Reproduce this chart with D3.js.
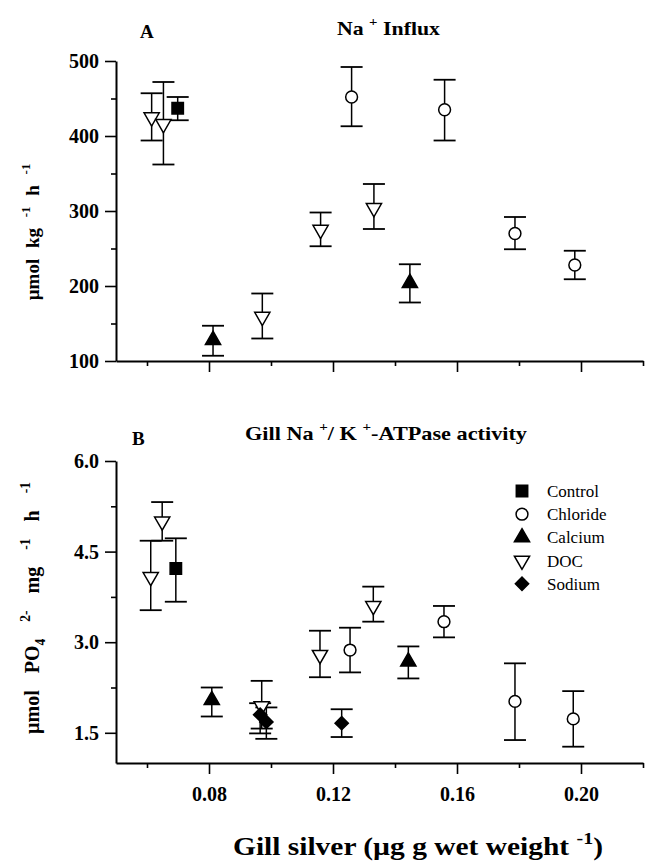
<!DOCTYPE html>
<meta charset="utf-8">
<head>
  <script src="https://d3js.org/d3.v7.min.js"></script>
  <style>
    body { margin: 0; background: #fff; }
    text { font-family: "Liberation Serif", "Times New Roman", serif; fill: #000; }
  </style>
</head>
<body>
<div id="chart"></div>
<script>
// ---- data: [gill silver, value, lower error, upper error] ----
var seriesNames = ["Control", "Chloride", "Calcium", "DOC", "Sodium"];

// panel A: Na+ influx (umol kg-1 h-1)
var influxControl = [[0.0699, 437, 421, 452]];
var influxChloride = [[0.1260, 452, 413, 492], [0.1560, 435, 394, 475], [0.1787, 270, 249, 292], [0.1980, 228, 209, 247]];
var influxCalcium = [[0.0813, 128, 107, 147], [0.1448, 204, 178, 229]];
var influxDOC = [[0.0615, 425, 394, 457], [0.0653, 416, 362, 472], [0.0972, 159, 130, 190], [0.1160, 275, 253, 298], [0.1332, 304, 276, 336]];
var influxSodium = [];

// panel B: gill Na+/K+-ATPase activity
var atpControl = [[0.0693, 4.22, 3.67, 4.72]];
var atpChloride = [[0.1255, 2.87, 2.50, 3.24], [0.1558, 3.34, 3.08, 3.60], [0.1787, 2.02, 1.38, 2.65], [0.1975, 1.73, 1.27, 2.19]];
var atpCalcium = [[0.0809, 2.04, 1.77, 2.25], [0.1443, 2.68, 2.40, 2.93]];
var atpDOC = [[0.0612, 4.08, 3.53, 4.68], [0.0649, 5.00, 4.68, 5.32], [0.0970, 1.94, 1.57, 2.36], [0.1158, 2.79, 2.42, 3.19], [0.1330, 3.60, 3.34, 3.92]];
var atpSodium = [[0.0965, 1.80, 1.49, 1.99], [0.0985, 1.68, 1.40, 1.92], [0.1228, 1.66, 1.43, 1.89]];

var xMajor = [0.08, 0.12, 0.16, 0.20];
var xMinor = [0.06, 0.10, 0.14, 0.18, 0.22];
var yMajorA = [100, 200, 300, 400, 500];
var yMinorA = [150, 250, 350, 450];
var yMajorB = [1.5, 3.0, 4.5, 6.0];
var yMinorB = [2.25, 3.75, 5.25];

var width = 647, height = 861;

var svg = d3.select("#chart").append("svg")
  .attr("width", width)
  .attr("height", height);

var x = d3.scaleLinear().domain([0.05, 0.22]).range([116, 643]);
var yA = d3.scaleLinear().domain([100, 500]).range([361, 61]);
var yB = d3.scaleLinear().domain([1.0, 6.0]).range([763, 461]);

// symbol for each series
var symbols = {
  Control: { type: d3.symbolSquare, size: 130, fill: "#000", rot: 0 },
  Chloride: { type: d3.symbolCircle, size: 110, fill: "#fff", rot: 0 },
  Calcium: { type: d3.symbolTriangle, size: 100, fill: "#000", rot: 0 },
  DOC: { type: d3.symbolTriangle, size: 100, fill: "#fff", rot: 180 },
  Sodium: { type: d3.symbolSquare, size: 88, fill: "#000", rot: 45 }
};

function drawMarker(g, name, cx, cy) {
  var s = symbols[name];
  g.append("path")
    .attr("d", d3.symbol().type(s.type).size(s.size)())
    .attr("transform", "translate(" + cx + "," + cy + ") rotate(" + s.rot + ")")
    .attr("fill", s.fill)
    .attr("stroke", "#000")
    .attr("stroke-width", 1.5);
}

// text with super/subscripts: parts = [[string, "n"|"sup"|"sub"], ...]
function richText(t, parts, fs) {
  var cur = 0;
  parts.forEach(function (p) {
    var target = p[1] === "sup" ? -0.45 * fs : p[1] === "sub" ? 0.3 * fs : 0;
    t.append("tspan")
      .attr("dy", target - cur)
      .style("font-size", (p[1] === "n" ? fs : fs * 0.68) + "px")
      .text(p[0]);
    cur = target;
  });
}

function drawPanel(y, data, yMajor, yMinor, showXLabels) {
  var g = svg.append("g");

  // y axis
  g.append("g")
    .attr("transform", "translate(116,0)")
    .call(d3.axisLeft(y).tickValues(yMinor).tickSize(5).tickFormat(""))
    .call(function (a) { a.select(".domain").remove(); });
  g.append("g")
    .attr("transform", "translate(116,0)")
    .call(d3.axisLeft(y).tickValues(yMajor).tickSize(11).tickSizeOuter(0).tickPadding(6)
      .tickFormat(yMajor[0] < 10 ? d3.format(".1f") : d3.format("d")));

  // x axis
  g.append("g")
    .attr("transform", "translate(0," + y.range()[0] + ")")
    .call(d3.axisBottom(x).tickValues(xMinor).tickSize(5).tickFormat(""))
    .call(function (a) { a.select(".domain").remove(); });
  g.append("g")
    .attr("transform", "translate(0," + y.range()[0] + ")")
    .call(d3.axisBottom(x).tickValues(xMajor).tickSize(11).tickSizeOuter(0).tickPadding(13)
      .tickFormat(showXLabels ? d3.format(".2f") : ""));

  g.selectAll(".domain").attr("stroke-width", 2);
  g.selectAll(".tick line").attr("stroke-width", 1.6);
  g.selectAll(".tick text")
    .style("font-family", "'Liberation Serif', serif")
    .style("font-weight", "bold")
    .style("font-size", "20px");

  // error bars then markers
  seriesNames.forEach(function (name, i) {
    data[i].forEach(function (d) {
      var cx = x(d[0]);
      g.append("line")
        .attr("x1", cx).attr("x2", cx)
        .attr("y1", y(d[2])).attr("y2", y(d[3]))
        .attr("stroke", "#000").attr("stroke-width", 1.5);
      [d[2], d[3]].forEach(function (v) {
        g.append("line")
          .attr("x1", cx - 11).attr("x2", cx + 11)
          .attr("y1", y(v)).attr("y2", y(v))
          .attr("stroke", "#000").attr("stroke-width", 1.8);
      });
    });
  });
  seriesNames.forEach(function (name, i) {
    data[i].forEach(function (d) {
      drawMarker(g, name, x(d[0]), y(d[1]));
    });
  });
  return g;
}

drawPanel(yA, [influxControl, influxChloride, influxCalcium, influxDOC, influxSodium], yMajorA, yMinorA, false);
drawPanel(yB, [atpControl, atpChloride, atpCalcium, atpDOC, atpSodium], yMajorB, yMinorB, true);

// panel letters and titles
svg.append("text").attr("x", 140).attr("y", 38)
  .style("font-weight", "bold").style("font-size", "19px").text("A");
svg.append("text").attr("x", 132).attr("y", 445)
  .style("font-weight", "bold").style("font-size", "19px").text("B");

var tA = svg.append("text").attr("x", 337).attr("y", 35)
  .attr("textLength", 103).attr("lengthAdjust", "spacingAndGlyphs")
  .style("font-weight", "bold").style("font-size", "19px");
richText(tA, [["Na ", "n"], ["+", "sup"], [" Influx", "n"]], 19);

var tB = svg.append("text").attr("x", 245).attr("y", 440)
  .attr("textLength", 282).attr("lengthAdjust", "spacingAndGlyphs")
  .style("font-weight", "bold").style("font-size", "19px");
richText(tB, [["Gill Na ", "n"], ["+", "sup"], ["/ K ", "n"], ["+", "sup"], ["-ATPase activity", "n"]], 19);

// y labels
var lA = svg.append("text")
  .attr("transform", "translate(39,232) rotate(-90)")
  .attr("text-anchor", "middle")
  .style("word-spacing", "6px")
  .style("font-weight", "bold").style("font-size", "19px");
richText(lA, [["\u00b5mol kg ", "n"], ["-1", "sup"], [" h ", "n"], ["-1", "sup"]], 19);

var lB = svg.append("text")
  .attr("transform", "translate(39,608) rotate(-90)")
  .attr("text-anchor", "middle")
  .style("word-spacing", "12px")
  .style("font-weight", "bold").style("font-size", "20px");
richText(lB, [["\u00b5mol PO", "n"], ["4", "sub"], [" ", "n"], ["2-", "sup"], [" mg ", "n"], ["-1", "sup"], [" h ", "n"], ["-1", "sup"]], 20);

// x label
var lx = svg.append("text")
  .attr("x", 233).attr("y", 855)
  .attr("textLength", 370).attr("lengthAdjust", "spacingAndGlyphs")
  .style("font-weight", "bold").style("font-size", "25px");
richText(lx, [["Gill silver (\u00b5g g wet weight ", "n"], ["-1", "sup"], [")", "n"]], 25);

// legend
var legend = svg.append("g");
seriesNames.forEach(function (name, i) {
  var ly = 491 + i * 23.2;
  drawMarker(legend, name, 522, ly);
  legend.append("text")
    .attr("x", 547).attr("y", ly).attr("dy", "0.35em")
    .style("font-size", "17px")
    .text(name);
});
</script>
</body>
</html>
